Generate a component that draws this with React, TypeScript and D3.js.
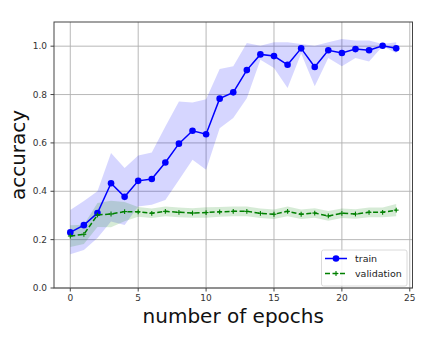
import React from "react";
import * as d3 from "d3";

const epochs = d3.range(0, 25);
const trainMean = [0.23, 0.26, 0.31, 0.433, 0.377, 0.443, 0.451, 0.519, 0.597, 0.65, 0.636, 0.783, 0.809, 0.901, 0.966, 0.959, 0.923, 0.991, 0.914, 0.983, 0.972, 0.988, 0.983, 1.002, 0.991];
const trainUpper = [0.323, 0.36, 0.4, 0.558, 0.496, 0.548, 0.56, 0.668, 0.771, 0.767, 0.781, 0.906, 0.917, 1.013, 1.002, 1.016, 1.016, 1.009, 1.002, 1.016, 1.03, 1.023, 1.023, 1.009, 1.016];
const trainLower = [0.14, 0.157, 0.207, 0.275, 0.261, 0.337, 0.344, 0.364, 0.447, 0.53, 0.489, 0.661, 0.703, 0.785, 0.944, 0.91, 0.827, 0.97, 0.834, 0.951, 0.917, 0.951, 0.937, 1.0, 0.972];
const valMean = [0.215, 0.222, 0.302, 0.306, 0.316, 0.315, 0.309, 0.317, 0.313, 0.31, 0.312, 0.315, 0.317, 0.317, 0.309, 0.305, 0.317, 0.305, 0.31, 0.298, 0.309, 0.306, 0.313, 0.313, 0.322];
const valSpread = [0.045, 0.04, 0.05, 0.055, 0.04, 0.02, 0.02, 0.02, 0.02, 0.02, 0.022, 0.02, 0.02, 0.02, 0.02, 0.02, 0.02, 0.02, 0.02, 0.02, 0.02, 0.02, 0.02, 0.02, 0.025];
const xTicks = [0, 5, 10, 15, 20, 25];
const yTicks = [0, 0.2, 0.4, 0.6, 0.8, 1.0];

const W = 423, H = 337;
const L = 54, R = 412.5, T = 22, B = 288;

export default function App() {
  const x = d3.scaleLinear().domain([-1.2, 25.2]).range([L, R]);
  const y = d3.scaleLinear().domain([0, 1.1]).range([B, T]);
  const line = d3.line<number>().x((_, i) => x(epochs[i])).y((d) => y(d));
  const trainArea = d3.area<number>().x((_, i) => x(epochs[i])).y0((_, i) => y(trainLower[i])).y1((d) => y(d));
  const valArea = d3.area<number>().x((_, i) => x(epochs[i])).y0((d, i) => y(d - valSpread[i])).y1((d, i) => y(d + valSpread[i]));
  const font = "DejaVu Sans, sans-serif";
  const ps = 2.4;
  return (
    <svg width={W} height={H} style={{ position: "absolute", left: 0, top: 0 }} fontFamily={font}>
      <rect width={W} height={H} fill="#fff" />
      {xTicks.map((t) => (
        <line key={"gx" + t} x1={x(t)} x2={x(t)} y1={T} y2={B} stroke="#b0b0b0" strokeWidth={0.9} />
      ))}
      {yTicks.map((t) => (
        <line key={"gy" + t} x1={L} x2={R} y1={y(t)} y2={y(t)} stroke="#b0b0b0" strokeWidth={0.9} />
      ))}
      <path d={trainArea(trainUpper) || ""} fill="#0000ff" fillOpacity={0.16} />
      <path d={valArea(valMean) || ""} fill="#008000" fillOpacity={0.16} />
      <path d={line(trainMean) || ""} fill="none" stroke="#0000ff" strokeWidth={1.5} />
      {trainMean.map((v, i) => (
        <circle key={"tc" + i} cx={x(epochs[i])} cy={y(v)} r={3.3} fill="#0000ff" />
      ))}
      <path d={line(valMean) || ""} fill="none" stroke="#008000" strokeWidth={1.5} strokeDasharray="5,2.5" />
      {valMean.map((v, i) => (
        <g key={"vp" + i} stroke="#008000" strokeWidth={1.1}>
          <line x1={x(epochs[i]) - ps} x2={x(epochs[i]) + ps} y1={y(v)} y2={y(v)} />
          <line x1={x(epochs[i])} x2={x(epochs[i])} y1={y(v) - ps} y2={y(v) + ps} />
        </g>
      ))}
      <rect x={L} y={T} width={R - L} height={B - T} fill="none" stroke="#444" strokeWidth={1} />
      {xTicks.map((t) => (
        <g key={"xt" + t}>
          <line x1={x(t)} x2={x(t)} y1={B} y2={B + 3.5} stroke="#444" />
          <text x={x(t)} y={B + 13} textAnchor="middle" fontSize={9} fill="#333">{t}</text>
        </g>
      ))}
      {yTicks.map((t) => (
        <g key={"yt" + t}>
          <line x1={L - 3.5} x2={L} y1={y(t)} y2={y(t)} stroke="#444" />
          <text x={L - 7} y={y(t) + 3.2} textAnchor="end" fontSize={9} fill="#333">{t.toFixed(1)}</text>
        </g>
      ))}
      <text x={(L + R) / 2} y={323} textAnchor="middle" fontSize={20} fill="#111">number of epochs</text>
      <text transform={`translate(24.5,${(T + B) / 2}) rotate(-90)`} textAnchor="middle" fontSize={20} fill="#111">accuracy</text>
      <g>
        <rect x={321.5} y={250} width={85.5} height={36} rx={2} fill="#fff" fillOpacity={0.85} stroke="#d0d0d0" strokeWidth={0.8} />
        <line x1={325} x2={347} y1={258.5} y2={258.5} stroke="#0000ff" strokeWidth={1.5} />
        <circle cx={336} cy={258.5} r={3.3} fill="#0000ff" />
        <text x={355} y={261.8} fontSize={9.5} fill="#222">train</text>
        <line x1={325} x2={347} y1={273.5} y2={273.5} stroke="#008000" strokeWidth={1.5} strokeDasharray="5,2.5" />
        <line x1={336 - ps} x2={336 + ps} y1={273.5} y2={273.5} stroke="#008000" strokeWidth={1.1} />
        <line x1={336} x2={336} y1={273.5 - ps} y2={273.5 + ps} stroke="#008000" strokeWidth={1.1} />
        <text x={355} y={276.8} fontSize={9.5} fill="#222">validation</text>
      </g>
    </svg>
  );
}
